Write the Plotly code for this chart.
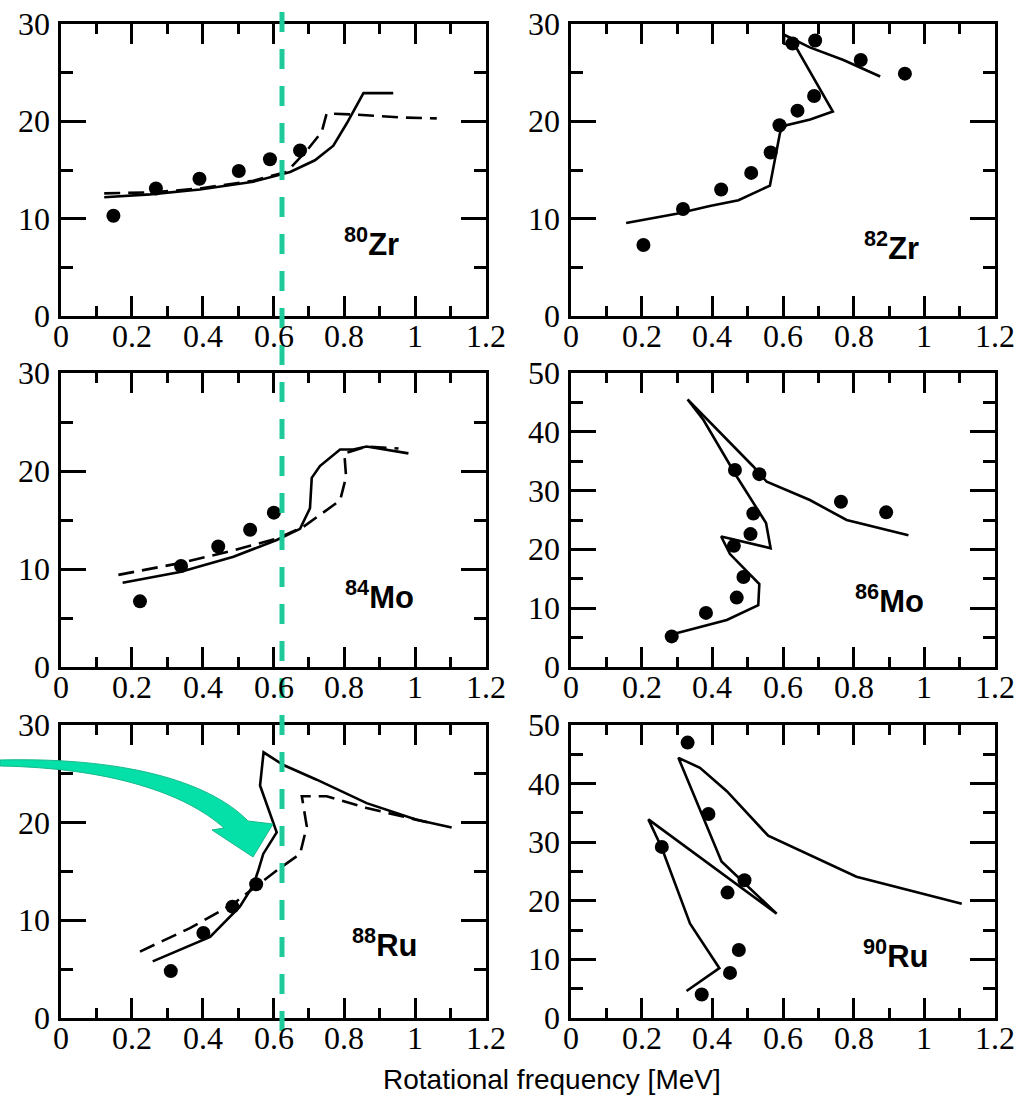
import plotly.graph_objects as go

W, H = 1028, 1095

# ---------------- data (rotational frequency [MeV], J(2)) ----------------
# 80Zr
zr80_exp_w = [0.148, 0.268, 0.391, 0.502, 0.590, 0.675]
zr80_exp_j = [10.3, 13.1, 14.1, 14.9, 16.1, 17.0]
zr80_sol_w = [0.122, 0.251, 0.392, 0.543, 0.647, 0.717, 0.769, 0.807, 0.854, 0.938]
zr80_sol_j = [12.2, 12.5, 13.0, 13.8, 14.8, 16.0, 17.5, 19.8, 22.9, 22.9]
zr80_das_w = [0.122, 0.261, 0.392, 0.543, 0.637, 0.694, 0.736, 0.750, 0.825, 0.957, 1.061]
zr80_das_j = [12.6, 12.7, 13.1, 13.9, 14.8, 17.0, 18.9, 20.8, 20.7, 20.4, 20.3]

# 82Zr
zr82_exp_w = [0.205, 0.317, 0.425, 0.510, 0.565, 0.590, 0.641, 0.688, 0.627, 0.691, 0.820, 0.945]
zr82_exp_j = [7.3, 11.0, 13.0, 14.7, 16.8, 19.6, 21.1, 22.6, 28.0, 28.3, 26.3, 24.9]
zr82_sol_w = [0.156, 0.299, 0.393, 0.474, 0.563, 0.592, 0.610, 0.677, 0.741, 0.637, 0.603, 0.603, 0.676, 0.771, 0.875]
zr82_sol_j = [9.55, 10.5, 11.3, 11.9, 13.4, 18.9, 19.6, 20.2, 21.0, 27.6, 28.0, 28.9, 27.6, 26.3, 24.6]

# 84Mo
mo84_exp_w = [0.223, 0.339, 0.444, 0.534, 0.601]
mo84_exp_j = [6.7, 10.3, 12.3, 14.0, 15.75]
mo84_sol_w = [0.174, 0.336, 0.487, 0.609, 0.675, 0.703, 0.708, 0.731, 0.788, 0.825, 0.863, 0.981]
mo84_sol_j = [8.6, 9.7, 11.25, 12.96, 14.1, 16.2, 19.3, 20.5, 22.2, 22.2, 22.5, 21.8]
mo84_das_w = [0.162, 0.336, 0.487, 0.609, 0.684, 0.788, 0.805, 0.800, 0.863, 0.953]
mo84_das_j = [9.4, 10.6, 11.9, 13.1, 14.3, 17.0, 19.4, 21.8, 22.5, 22.3]

# 86Mo
mo86_exp_w = [0.285, 0.382, 0.469, 0.488, 0.461, 0.508, 0.516, 0.464, 0.533, 0.764, 0.892]
mo86_exp_j = [5.2, 9.2, 11.8, 15.3, 20.6, 22.6, 26.1, 33.5, 32.8, 28.1, 26.3]
mo86_sol_w = [0.290, 0.441, 0.530, 0.533, 0.450, 0.425, 0.565, 0.552, 0.469, 0.375, 0.330,
              0.516, 0.554, 0.676, 0.780, 0.955]
mo86_sol_j = [5.6, 8.0, 10.5, 14.1, 19.2, 22.2, 20.2, 24.5, 32.4, 42.0, 45.5,
              34.1, 31.5, 28.4, 25.0, 22.4]

# 88Ru
ru88_exp_w = [0.310, 0.402, 0.484, 0.551]
ru88_exp_j = [4.8, 8.7, 11.4, 13.7]
ru88_sol_w = [0.259, 0.421, 0.505, 0.543, 0.557, 0.571, 0.609, 0.562, 0.572, 0.628, 0.722, 0.863, 1.004, 1.103]
ru88_sol_j = [5.8, 8.3, 11.4, 13.6, 15.1, 16.8, 19.0, 23.8, 27.2, 25.9, 24.4, 22.0, 20.3, 19.5]
ru88_das_w = [0.223, 0.364, 0.487, 0.609, 0.675, 0.694, 0.680, 0.750, 0.863, 1.004, 1.051]
ru88_das_j = [6.8, 9.2, 11.7, 15.1, 16.8, 19.6, 22.7, 22.7, 21.5, 20.3, 19.9]

# 90Ru
ru90_exp_w = [0.330, 0.389, 0.257, 0.491, 0.443, 0.475, 0.450, 0.370]
ru90_exp_j = [47.0, 34.8, 29.2, 23.5, 21.4, 11.6, 7.7, 4.0]
ru90_sol_w = [0.327, 0.420, 0.337, 0.257, 0.219, 0.582, 0.426, 0.304, 0.365, 0.441, 0.558, 0.808, 1.106]
ru90_sol_j = [4.6, 8.5, 16.1, 29.0, 33.9, 17.8, 26.7, 44.4, 42.7, 38.7, 31.1, 24.1, 19.5]

# tick labels
x_tick_vals = [0, 0.2, 0.4, 0.6, 0.8, 1.0, 1.2]
x_tick_text = ["0", "0.2", "0.4", "0.6", "0.8", "1", "1.2"]
y_tick_vals_30 = [0, 10, 20, 30]
y_tick_vals_50 = [0, 10, 20, 30, 40, 50]

nuclei = [
    ("80", "Zr", zr80_exp_w, zr80_exp_j, zr80_sol_w, zr80_sol_j, zr80_das_w, zr80_das_j, 30),
    ("82", "Zr", zr82_exp_w, zr82_exp_j, zr82_sol_w, zr82_sol_j, None, None, 30),
    ("84", "Mo", mo84_exp_w, mo84_exp_j, mo84_sol_w, mo84_sol_j, mo84_das_w, mo84_das_j, 30),
    ("86", "Mo", mo86_exp_w, mo86_exp_j, mo86_sol_w, mo86_sol_j, None, None, 50),
    ("88", "Ru", ru88_exp_w, ru88_exp_j, ru88_sol_w, ru88_sol_j, ru88_das_w, ru88_das_j, 30),
    ("90", "Ru", ru90_exp_w, ru90_exp_j, ru90_sol_w, ru90_sol_j, None, None, 50),
]
label_pos = [(0.878, 0.255), (0.906, 0.24), (0.90, 0.245), (0.90, 0.23), (0.912, 0.255), (0.917, 0.22)]

# ---------------- layout geometry (pixels) ----------------
col_px = [(61, 486), (571, 995)]
row_px = [(24, 316), (373, 667), (725, 1018)]

def px(x):
    return x / W

def py(y):
    return 1 - y / H

fig = go.Figure()
SERIF = dict(family="Liberation Serif", size=32, color="black")
SANS = "Liberation Sans"

for i, (mass, el, ew, ej, sw, sj, dw, dj, ymax) in enumerate(nuclei):
    r, c = divmod(i, 2)
    n = i + 1
    xa = "x" if n == 1 else f"x{n}"
    ya = "y" if n == 1 else f"y{n}"
    xl = "xaxis" if n == 1 else f"xaxis{n}"
    yl = "yaxis" if n == 1 else f"yaxis{n}"
    x0, x1 = col_px[c]
    t, b = row_px[r]
    fig.add_trace(go.Scatter(x=sw, y=sj, mode="lines", xaxis=xa, yaxis=ya,
                             line=dict(color="black", width=2.6), showlegend=False))
    if dw is not None:
        fig.add_trace(go.Scatter(x=dw, y=dj, mode="lines", xaxis=xa, yaxis=ya,
                                 line=dict(color="black", width=2.6, dash="16px,8px"),
                                 showlegend=False))
    fig.add_trace(go.Scatter(x=ew, y=ej, mode="markers", xaxis=xa, yaxis=ya,
                             marker=dict(color="black", size=14, line=dict(width=0)),
                             showlegend=False))
    common = dict(showline=True, linewidth=2.5, linecolor="black", mirror="allticks",
                  ticks="inside", tickwidth=2.5, tickcolor="black", showgrid=False,
                  zeroline=False, automargin=False, showticklabels=False)
    fig.layout[xl] = dict(domain=[px(x0), px(x1)], range=[0, 1.2], tick0=0, dtick=0.2,
                          ticklen=20, anchor=ya,
                          minor=dict(dtick=0.1, ticklen=10, tickwidth=2.5, ticks="inside",
                                     tickcolor="black", showgrid=False),
                          **common)
    fig.layout[yl] = dict(domain=[py(b), py(t)], range=[0, ymax], tick0=0, dtick=10,
                          ticklen=25, anchor=xa,
                          minor=dict(dtick=5, ticklen=12, tickwidth=2.5, ticks="inside",
                                     tickcolor="black", showgrid=False),
                          **common)
    # tick labels (serif)
    for v, s in zip(x_tick_vals, x_tick_text):
        fig.add_annotation(x=v, y=0, xref=xa, yref=f"{ya} domain", text=s,
                           showarrow=False, font=SERIF, xanchor="center",
                           yanchor="middle", yshift=-20)
    yvals = y_tick_vals_30 if ymax == 30 else y_tick_vals_50
    for v in yvals:
        fig.add_annotation(x=0, y=v, xref=f"{xa} domain", yref=ya, text=str(v),
                           showarrow=False, font=SERIF, xanchor="right",
                           yanchor="middle", xshift=-9)
    lx, ly = label_pos[i]
    fig.add_annotation(x=lx, y=ly * ymax, xref=xa, yref=ya, showarrow=False,
                       text=f"<b><sup>{mass}</sup>{el}</b>",
                       font=dict(family=SANS, size=31, color="black"),
                       xanchor="center", yanchor="middle")

# x-axis title
fig.add_annotation(x=px(552), y=py(1079), xref="paper", yref="paper", showarrow=False,
                   text="Rotational frequency [MeV]",
                   font=dict(family=SANS, size=28, color="black"),
                   xanchor="center", yanchor="middle")

# teal dashed guide line
fig.add_shape(type="line", xref="paper", yref="paper",
              x0=px(282), x1=px(282), y0=py(12), y1=py(1037),
              line=dict(color="#1ec99a", width=5, dash="20px,17px"))

# teal curved arrow
pts_top = [(0, 760), (120, 757), (208, 780), (248, 821)]
pts_bot = [(224, 828), (185, 793), (110, 768), (0, 766)]
def P(p):
    return f"{px(p[0]):.5f},{py(p[1]):.5f}"
path = (f"M {P(pts_top[0])} C {P(pts_top[1])} {P(pts_top[2])} {P(pts_top[3])} "
        f"L {P((273, 824))} L {P((253, 857))} L {P((212, 830))} L {P(pts_bot[0])} "
        f"C {P(pts_bot[1])} {P(pts_bot[2])} {P(pts_bot[3])} Z")
fig.add_shape(type="path", xref="paper", yref="paper", path=path,
              fillcolor="#05e0a8", line=dict(color="#17b98d", width=1))

fig.update_layout(width=W, height=H, margin=dict(l=0, r=0, t=0, b=0),
                  paper_bgcolor="white", plot_bgcolor="white", template="none",
                  showlegend=False)

fig.write_html("out.html")
